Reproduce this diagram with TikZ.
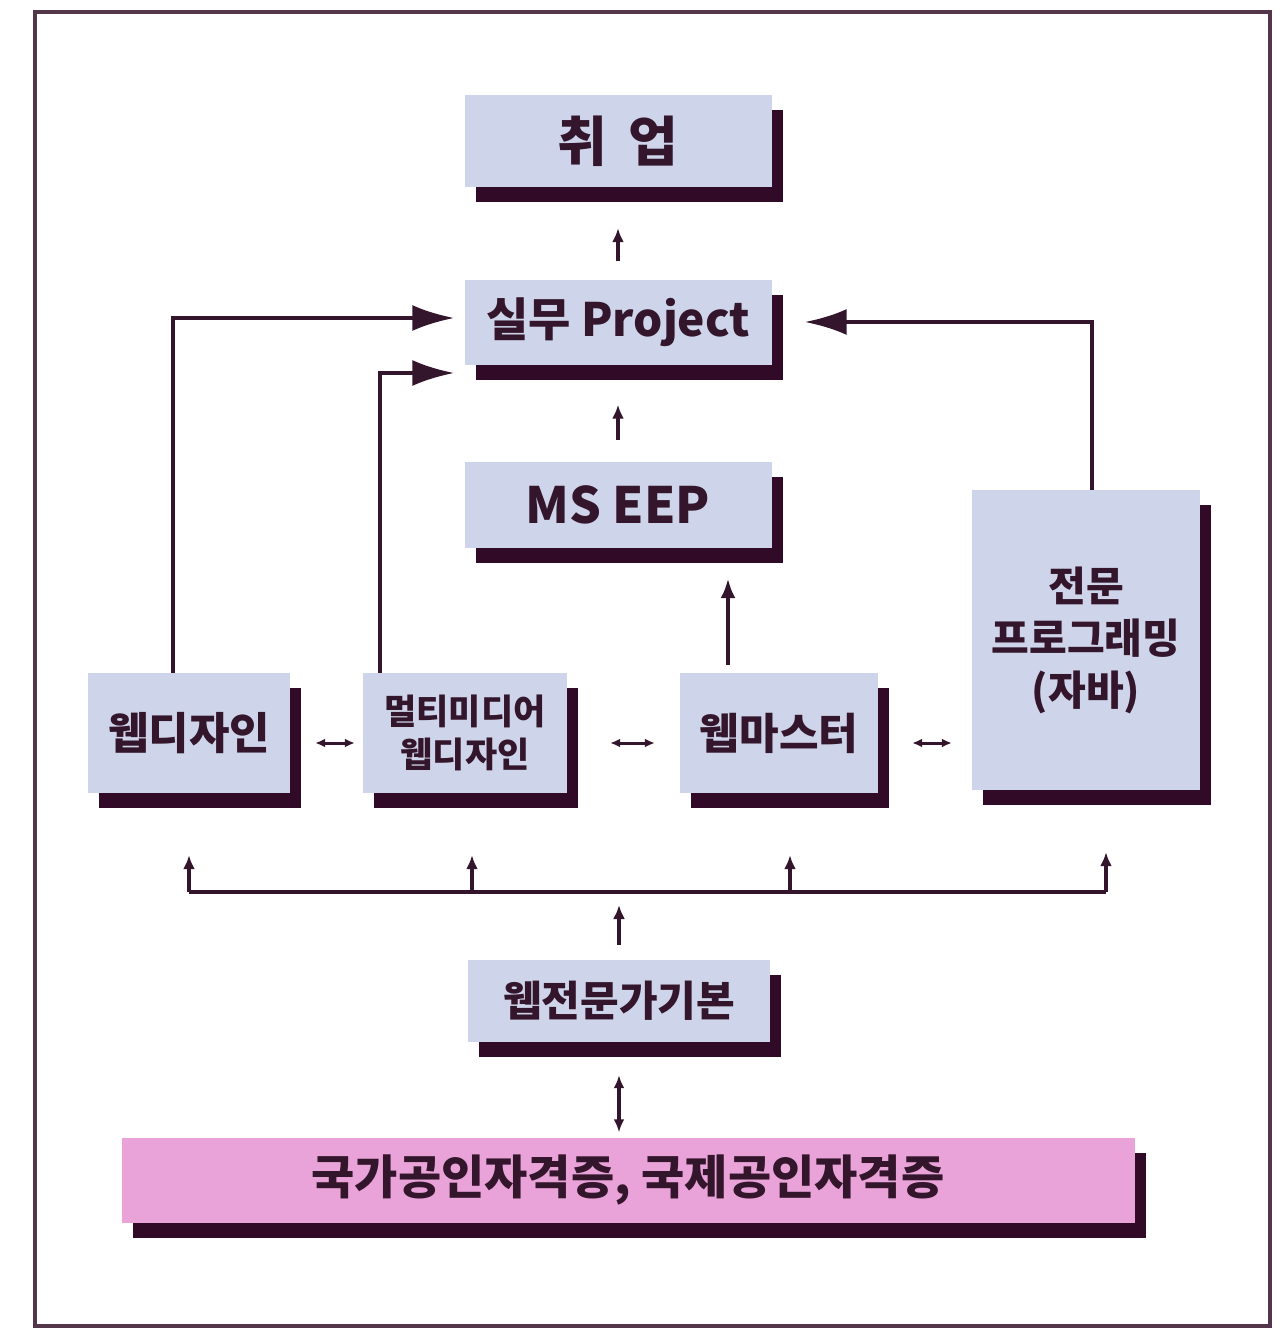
\documentclass[tikz,border=0pt]{standalone}
\usepackage{fontspec}
\setmainfont{Noto Sans CJK KR}
\usetikzlibrary{arrows.meta,shadows}
\definecolor{facecol}{RGB}{206,212,233}
\definecolor{certcol}{RGB}{233,163,217}
\definecolor{inkcol}{RGB}{52,22,44}
\definecolor{shadecol}{RGB}{48,10,38}
\definecolor{framecol}{RGB}{84,54,74}

\begin{document}
\begin{tikzpicture}[x=1pt,y=-1pt]
                    \tikzstyle{card} = [
	shape=rectangle,
	fill=facecol, %face of the box
	text=inkcol,
	font=\bfseries\fontsize{43}{49}\selectfont,
	align=center,
	inner sep=0pt,
	drop shadow={shadow xshift=11pt, shadow yshift=-15pt, fill=shadecol, opacity=1}
];
\tikzstyle{uparrow} = [-{Latex[length=14pt,width=12pt]}];
\tikzstyle{twoway} = [{Latex[length=10pt,width=9pt]}-{Latex[length=10pt,width=9pt]}];

\useasboundingbox (0,0) rectangle (1286,1328);
\draw[line width=4pt, color=framecol] (35,12) rectangle (1270,1326);

%main column
\node[card, minimum width=307pt, minimum height=92pt, font=\bfseries\fontsize{54}{60}\selectfont] (job) at (618,141) {취\hspace{0.4em}업};
\node[card, minimum width=307pt, minimum height=85pt, font=\bfseries\fontsize{46}{52}\selectfont] (proj) at (618,322) {실무 Project};
\node[card, minimum width=307pt, minimum height=86pt, font=\bfseries\fontsize{50}{56}\selectfont] (eep) at (618,505) {MS EEP};

%tracks
\node[card, minimum width=202pt, minimum height=120pt, font=\bfseries\fontsize{44}{50}\selectfont] (webdesign) at (189,733) {웹디자인};
\node[card, minimum width=204pt, minimum height=120pt, font=\bfseries\fontsize{35}{43}\selectfont] (multi) at (465,733) {멀티미디어\\웹디자인};
\node[card, minimum width=198pt, minimum height=120pt] (webmaster) at (779,733) {웹마스터};
\node[card, minimum width=228pt, minimum height=300pt, font=\bfseries\fontsize{41}{52}\selectfont] (java) at (1086,640) {전문\\프로그래밍\\(자바)};

%base
\node[card, minimum width=302pt, minimum height=82pt, font=\bfseries\fontsize{42}{48}\selectfont] (basic) at (619,1001) {웹전문가기본};
\node[card, fill=certcol, minimum width=1013pt, minimum height=85pt, font=\bfseries\fontsize{47}{53}\selectfont] (cert) at (628,1180) {국가공인자격증, 국제공인자격증};

\coordinate (bus) at (619,892);

%upward steps
\draw[line width=4pt, color=inkcol]
	(proj.north) edge[uparrow, shorten <=18pt, shorten >=41pt] (job.south)
	(eep.north) edge[uparrow, shorten <=22pt, shorten >=40pt] (proj.south)
	([xshift=-51pt]webmaster.north) edge[-{Latex[length=20pt,width=15pt]}, shorten <=8pt, shorten >=30pt] ([xshift=-51pt]webmaster.north |- eep.south)
	(basic.north) edge[uparrow, shorten <=15pt, shorten >=13pt] (bus)
;

%into the project
\draw[-{Latex[length=42pt,width=26pt]}, line width=4pt, color=inkcol, shorten >=10pt]
	([xshift=-16pt]webdesign.north) |- ([yshift=4pt]proj.west);
\draw[-{Latex[length=42pt,width=26pt]}, line width=4pt, color=inkcol, shorten >=10pt]
	([xshift=-85pt]multi.north) |- ([yshift=-51pt]proj.west);
\draw[-{Latex[length=42pt,width=26pt]}, line width=4pt, color=inkcol, shorten >=33pt]
	([xshift=6pt]java.north) |- (proj.east);

%between tracks
\draw[line width=3pt, color=inkcol]
	([yshift=-10pt]webdesign.east) edge[twoway, shorten <=25pt, shorten >=8pt] ([yshift=-10pt]multi.west)
	([yshift=-10pt]multi.east) edge[twoway, shorten <=43pt, shorten >=25pt] ([yshift=-10pt]webmaster.west)
	([yshift=-10pt]webmaster.east) edge[twoway, shorten <=34pt, shorten >=20pt] ([yshift=-10pt]webmaster.east -| java.west)
;

%bus to tracks
\draw[line width=4pt, color=inkcol] (webdesign.south |- bus) -- ([xshift=20pt]java.south |- bus);
\draw[line width=4pt, color=inkcol]
	(webdesign.south |- bus) edge[uparrow, shorten >=62pt] (webdesign.south)
	([xshift=7pt]multi.south |- bus) edge[uparrow, shorten >=62pt] ([xshift=7pt]multi.south)
	([xshift=11pt]webmaster.south |- bus) edge[uparrow, shorten >=62pt] ([xshift=11pt]webmaster.south)
	([xshift=20pt]java.south |- bus) edge[uparrow, shorten >=62pt] ([xshift=20pt]java.south)
;

%certificates
\draw[line width=4pt, color=inkcol]
	(basic.south) edge[{Latex[length=13pt,width=11pt]}-{Latex[length=13pt,width=11pt]}, shorten <=33pt, shorten >=5pt] (basic.south |- cert.north)
;

                \end{tikzpicture}
\end{document}
